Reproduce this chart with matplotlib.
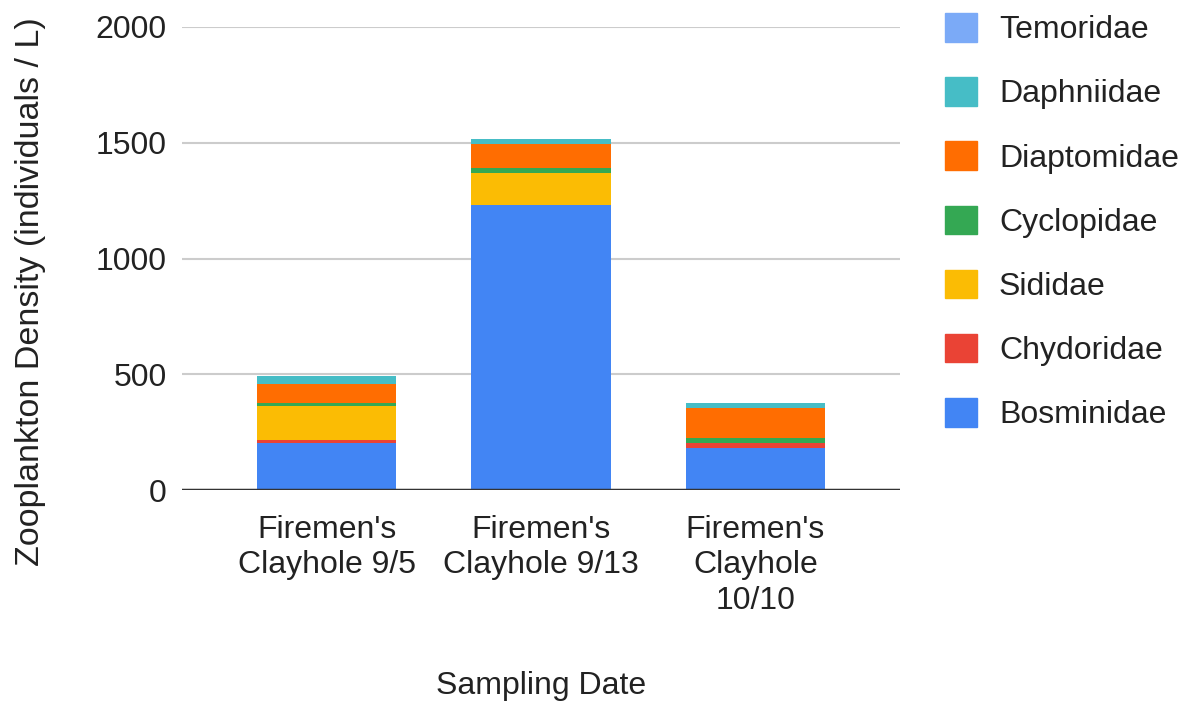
import matplotlib.pyplot as plt
import numpy as np
from matplotlib.patches import Patch

plt.rcParams['font.family'] = ['Liberation Sans', 'DejaVu Sans']

# data
dates = ["Firemen's\nClayhole 9/5", "Firemen's\nClayhole 9/13", "Firemen's\nClayhole\n10/10"]
families = ['Bosminidae', 'Chydoridae', 'Sididae', 'Cyclopidae', 'Diaptomidae', 'Daphniidae', 'Temoridae']
bosminidae = [204, 1230, 180]
chydoridae = [11, 0, 23]
sididae = [149, 138, 0]
cyclopidae = [12, 23, 22]
diaptomidae = [82, 104, 128]
daphniidae = [34, 22, 23]
temoridae = [0, 0, 0]
colors = ['#4285F4', '#EA4335', '#FBBC04', '#34A853', '#FF6D01', '#46BDC6', '#7BAAF7']

series = [bosminidae, chydoridae, sididae, cyclopidae, diaptomidae, daphniidae, temoridae]

fig = plt.figure(figsize=(11.85, 7.09), dpi=100)
ax = fig.add_axes([182/1185, 1-490/709, (900-182)/1185, (490-27)/709])

x = np.arange(len(dates))
bottom = np.zeros(len(dates))
for vals, col, name in zip(series, colors, families):
    ax.bar(x, vals, width=0.65, bottom=bottom, color=col, label=name, zorder=3)
    bottom += np.array(vals)

ax.set_xlim(-0.675, 2.675)
ax.set_ylim(0, 2000)
ax.set_yticks([0, 500, 1000, 1500, 2000])
ax.yaxis.grid(True, color='#cccccc', linewidth=1.5, zorder=0)
ax.axhline(0, color='#333333', linewidth=2.5, zorder=4)
for s in ax.spines.values():
    s.set_visible(False)
ax.set_xticks(x)
ax.set_xticklabels(dates, fontsize=23, color='#222222', linespacing=1.23)
ax.tick_params(axis='x', length=0, pad=18)
ax.tick_params(axis='y', length=0, pad=11, labelsize=23, labelcolor='#222222')

fig.text(31/1185, 1-292/709, 'Zooplankton Density (individuals / L)', rotation=90,
         ha='center', va='center', fontsize=24.5, color='#222222')
fig.text(541/1185, 1-686/709, 'Sampling Date', ha='center', va='center',
         fontsize=23, color='#222222')

handles = [Patch(color=c, label=n) for c, n in zip(colors, families)][::-1]
fig.legend(handles=handles, loc='upper left', bbox_to_anchor=(945/1185, 1-13/709),
           frameon=False, fontsize=23, handlelength=1.0, handleheight=1.0,
           handletextpad=0.69, labelspacing=1.0, borderpad=0, borderaxespad=0,
           labelcolor='#222222')

fig.savefig('out.png', dpi=100)
